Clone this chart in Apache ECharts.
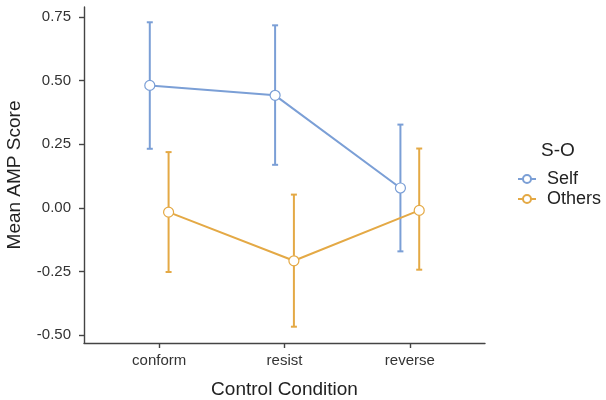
<!DOCTYPE html>
<html><head><meta charset="utf-8">
<script src="https://cdn.jsdelivr.net/npm/echarts@6/dist/echarts.min.js"></script>
<style>html,body{margin:0;padding:0;background:#fff}#c{width:606px;height:400px}</style>
</head><body><div id="c"></div>
<script>
var categories = ['conform', 'resist', 'reverse'];
var groups = ['Self', 'Others'];
var selfMean = [0.481, 0.442, 0.078];
var selfLow = [0.232, 0.169, -0.171];
var selfHigh = [0.729, 0.717, 0.327];
var othersMean = [-0.017, -0.208, -0.010];
var othersLow = [-0.252, -0.467, -0.243];
var othersHigh = [0.219, 0.052, 0.233];
var yTicks = [-0.5, -0.25, 0, 0.25, 0.5, 0.75];
var colors = ['#7b9fd6', '#e4a945'];
var dodge = [-0.075, 0.075];

var means = [selfMean, othersMean], lows = [selfLow, othersLow], highs = [selfHigh, othersHigh];
var series = [];
var font = 'Liberation Sans, Arial, sans-serif';
groups.forEach(function (g, gi) {
  var errData = categories.map(function (c, i) { return [i + 1 + dodge[gi], lows[gi][i], highs[gi][i]]; });
  series.push({
    type: 'custom', name: g + '_err', z: 1, silent: true,
    data: errData,
    renderItem: function (params, api) {
      var x = api.value(0);
      var p1 = api.coord([x, api.value(1)]);
      var p2 = api.coord([x, api.value(2)]);
      var w = 3;
      var st = { stroke: colors[gi], lineWidth: 2 };
      return { type: 'group', children: [
        { type: 'line', shape: { x1: p1[0], y1: p1[1], x2: p2[0], y2: p2[1] }, style: st },
        { type: 'line', shape: { x1: p1[0] - w, y1: p1[1], x2: p1[0] + w, y2: p1[1] }, style: st },
        { type: 'line', shape: { x1: p2[0] - w, y1: p2[1], x2: p2[0] + w, y2: p2[1] }, style: st }
      ]};
    }
  });
  series.push({
    type: 'line', name: g, z: 3,
    data: categories.map(function (c, i) { return [i + 1 + dodge[gi], means[gi][i]]; }),
    symbol: 'circle', symbolSize: 10, showSymbol: true,
    lineStyle: { color: colors[gi], width: 2 },
    itemStyle: { color: '#fff', borderColor: colors[gi], borderWidth: 1.2 },
    emphasis: { disabled: true }, animation: false
  });
});

var chart = echarts.init(document.getElementById('c'));
chart.setOption({
  animation: false,
  backgroundColor: '#fff',
  grid: { left: 84, right: 121, top: 7, bottom: 57, containLabel: false, outerBoundsMode: 'none' },
  title: { text: 'S-O', left: 541, top: 141, padding: 0, textStyle: { fontFamily: font, fontSize: 19, fontWeight: 'normal', color: '#222' } },
  legend: {
    data: groups, orient: 'vertical', left: 517, top: 170, padding: 0, itemGap: 2, itemWidth: 18, itemHeight: 10,
    textStyle: { fontFamily: font, fontSize: 18, lineHeight: 18, color: '#222', padding: [0, 0, 0, 6] }
  },
  xAxis: {
    type: 'value', min: 0.4, max: 3.6,
    name: 'Control Condition', nameLocation: 'middle', nameGap: 37,
    nameTextStyle: { fontFamily: font, fontSize: 19, color: '#222' },
    axisLine: { show: true, onZero: false, lineStyle: { color: '#444', width: 1.4 } },
    axisTick: { show: true, customValues: [1, 2, 3], length: 5, lineStyle: { color: '#444', width: 1.4 } },
    axisLabel: { customValues: [1, 2, 3], margin: 10, fontFamily: font, fontSize: 15, color: '#333',
      formatter: function (v) { return categories[Math.round(v) - 1] || ''; } },
    splitLine: { show: false }
  },
  yAxis: {
    type: 'value', min: -0.531, max: 0.789,
    name: 'Mean AMP Score', nameLocation: 'middle', nameGap: 60,
    nameTextStyle: { fontFamily: font, fontSize: 19, color: '#222' },
    axisLine: { show: true, onZero: false, lineStyle: { color: '#444', width: 1.4 } },
    axisTick: { show: true, customValues: yTicks, length: 5, lineStyle: { color: '#444', width: 1.4 } },
    axisLabel: { customValues: yTicks, margin: 13, fontFamily: font, fontSize: 15, color: '#333',
      formatter: function (v) { return v.toFixed(2); } },
    splitLine: { show: false }
  },
  series: series
});
</script></body></html>
